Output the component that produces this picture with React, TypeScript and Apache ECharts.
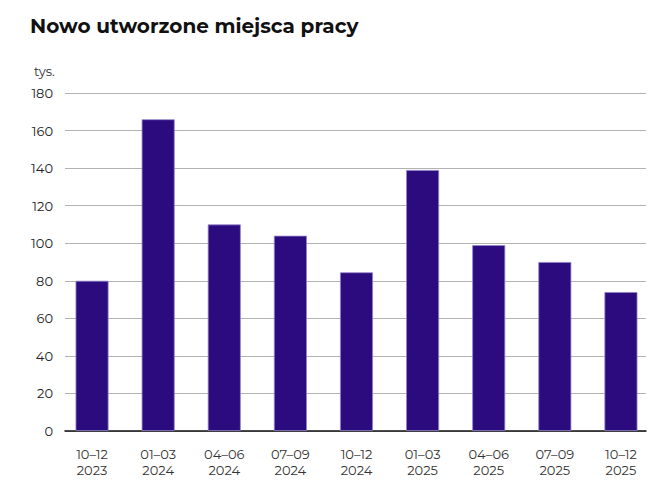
import React, { useEffect, useRef } from "react";
import * as echarts from "echarts";

const title = "Nowo utworzone miejsca pracy";
const unit = "tys.";
const categories = ["10–12\n2023", "01–03\n2024", "04–06\n2024", "07–09\n2024", "10–12\n2024", "01–03\n2025", "04–06\n2025", "07–09\n2025", "10–12\n2025"];
const values = [80, 166, 110, 104, 84.5, 139, 99, 90, 74];
const yMin = 0;
const yMax = 180;
const yInterval = 20;

const FONT = "Montserrat, 'Open Sans', 'Noto Sans', sans-serif";

export default function App() {
  const ref = useRef<HTMLDivElement>(null);
  useEffect(() => {
    if (!ref.current) return;
    const chart = echarts.init(ref.current, undefined, { renderer: "svg" });
    chart.setOption({
      animation: false,
      backgroundColor: "#ffffff",
      title: {
        text: title,
        left: 25,
        top: 11,
        textStyle: { fontFamily: FONT, fontSize: 20, fontWeight: "bold", color: "#111111" },
      },
      graphic: [
        {
          type: "text",
          left: 34,
          top: 64,
          style: { text: unit, fontFamily: FONT, fontSize: 13, fill: "#333333" },
        },
      ],
      grid: [
        { left: 65, right: 20, top: 93, bottom: 58 },
        { left: 59, right: 12, top: 93, bottom: 58 },
      ],
      xAxis: [
        {
          type: "category",
          gridIndex: 0,
          data: categories,
          axisLine: { show: true, lineStyle: { color: "#111111", width: 1.5 } },
          axisTick: { show: false },
          axisLabel: { show: false },
        },
        {
          type: "category",
          gridIndex: 1,
          data: categories,
          axisLine: { show: false },
          axisTick: { show: false },
          axisLabel: {
            margin: 15,
            fontFamily: FONT,
            fontSize: 13,
            lineHeight: 16,
            color: "#333333",
          },
        },
      ],
      yAxis: [
        {
          type: "value",
          gridIndex: 0,
          min: yMin,
          max: yMax,
          interval: yInterval,
          axisLine: { show: false },
          axisTick: { show: false },
          axisLabel: { margin: 12, fontFamily: FONT, fontSize: 13, color: "#222222" },
          splitLine: { show: true, lineStyle: { color: "#b3b3b3", width: 1 } },
        },
        {
          type: "value",
          gridIndex: 1,
          min: yMin,
          max: yMax,
          interval: yInterval,
          show: false,
          splitLine: { show: false },
        },
      ],
      series: [
        {
          type: "bar",
          xAxisIndex: 1,
          yAxisIndex: 1,
          data: values,
          barWidth: 33,
          itemStyle: { color: "#2b0b7e", borderColor: "#9385cc", borderWidth: 0.8 },
          z: 3,
        },
      ],
    });
    return () => chart.dispose();
  }, []);
  return <div ref={ref} style={{ width: 666, height: 489, position: "absolute", left: 0, top: 0 }} />;
}
